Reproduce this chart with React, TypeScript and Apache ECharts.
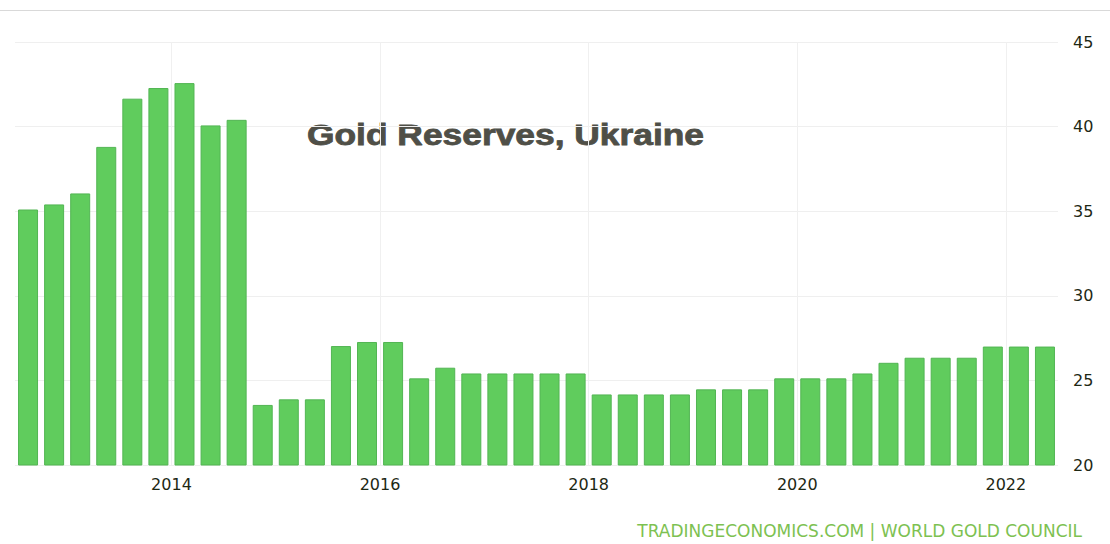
import React, { useEffect, useRef } from "react";
import * as echarts from "echarts";

const quarters: string[] = [
  "2012 Q3", "2012 Q4",
  "2013 Q1", "2013 Q2", "2013 Q3", "2013 Q4",
  "2014 Q1", "2014 Q2", "2014 Q3", "2014 Q4",
  "2015 Q1", "2015 Q2", "2015 Q3", "2015 Q4",
  "2016 Q1", "2016 Q2", "2016 Q3", "2016 Q4",
  "2017 Q1", "2017 Q2", "2017 Q3", "2017 Q4",
  "2018 Q1", "2018 Q2", "2018 Q3", "2018 Q4",
  "2019 Q1", "2019 Q2", "2019 Q3", "2019 Q4",
  "2020 Q1", "2020 Q2", "2020 Q3", "2020 Q4",
  "2021 Q1", "2021 Q2", "2021 Q3", "2021 Q4",
  "2022 Q1", "2022 Q2",
];

// Gold reserves, tonnes
const reserves: number[] = [
  35.1, 35.4, 36.05, 38.8, 41.65, 42.28, 42.57, 40.07, 40.4,
  23.55, 23.88, 23.88, 27.03, 27.27, 27.27,
  25.12, 25.75, 25.41, 25.41, 25.41, 25.41, 25.41,
  24.17, 24.17, 24.17, 24.17,
  24.47, 24.47, 24.47,
  25.12, 25.12, 25.12, 25.41, 26.04,
  26.34, 26.34, 26.34, 27.0, 27.0, 27.0,
];

const yearTicks: string[] = ["2014", "2016", "2018", "2020", "2022"];
const yTicks: number[] = [20, 25, 30, 35, 40, 45];

const titleText = "Gold Reserves, Ukraine";
const sourceText = "TRADINGECONOMICS.COM | WORLD GOLD COUNCIL";

export default function App() {
  const ref = useRef<HTMLDivElement>(null);

  useEffect(() => {
    if (!ref.current) return;
    const chart = echarts.init(ref.current, null, { renderer: "svg" });

    // boundaries between quarters: start of each quarter plus the end of the last one
    const boundaries = [...quarters, "2022 Q3"];
    const isYearStart = (v: string) =>
      v.endsWith("Q1") && yearTicks.includes(v.slice(0, 4));

    chart.setOption({
      animation: false,
      backgroundColor: "#ffffff",
      grid: { left: 15, right: 52, top: 42, bottom: 79 },
      xAxis: [
        {
          type: "category",
          data: quarters,
          boundaryGap: true,
          axisLine: { show: false },
          axisTick: { show: false },
          axisLabel: { show: false },
          splitLine: { show: false },
        },
        {
          type: "category",
          data: boundaries,
          boundaryGap: false,
          position: "bottom",
          axisLine: { show: false },
          axisTick: { show: false },
          axisLabel: {
            interval: (_i: number, v: string) => isYearStart(v),
            formatter: (v: string) => v.slice(0, 4),
            color: "#1e2814",
            fontFamily: "DejaVu Sans",
            fontSize: 16,
            margin: 11,
          },
          splitLine: {
            show: true,
            interval: (_i: number, v: string) => isYearStart(v),
            lineStyle: { color: "#f0f0f0", width: 1 },
          },
        },
      ],
      yAxis: {
        type: "value",
        position: "right",
        min: yTicks[0],
        max: yTicks[yTicks.length - 1],
        interval: 5,
        axisLine: { show: false },
        axisTick: { show: false },
        axisLabel: {
          color: "#1e2814",
          fontFamily: "DejaVu Sans",
          fontSize: 16,
          margin: 15,
        },
        splitLine: { lineStyle: { color: "#efefef", width: 1 } },
      },
      series: [
        {
          type: "bar",
          xAxisIndex: 0,
          data: reserves,
          barWidth: 20,
          itemStyle: {
            color: "#60cc5d",
            borderColor: "#52b553",
            borderWidth: 1,
          },
        },
      ],
      graphic: [
        {
          type: "line",
          shape: { x1: 0, y1: 10.5, x2: 1110, y2: 10.5 },
          style: { stroke: "#d9d9d9", lineWidth: 1 },
        },
        {
          type: "text",
          x: 307,
          y: 121,
          scaleX: 1.22,
          style: {
            text: titleText,
            fill: "#4f4f47",
            stroke: "#4f4f47",
            lineWidth: 0.8,
            font: "bold 29px 'Liberation Sans', Arial, sans-serif",
          },
        },
        {
          type: "text",
          right: 28,
          top: 522,
          style: {
            text: sourceText,
            fill: "#7dc151",
            font: "17px 'DejaVu Sans', sans-serif",
          },
        },
      ],
    });

    return () => chart.dispose();
  }, []);

  return (
    <div
      ref={ref}
      style={{ width: 1110, height: 544, position: "absolute", left: 0, top: 0 }}
    />
  );
}
